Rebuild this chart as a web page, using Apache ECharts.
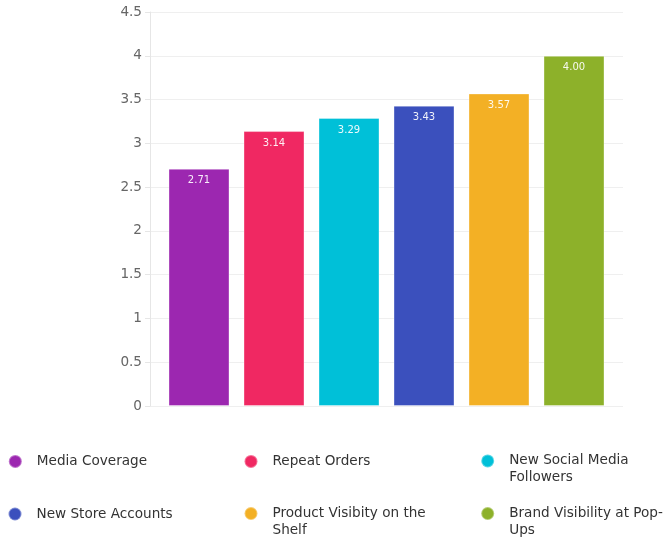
<!DOCTYPE html>
<html>
<head>
<meta charset="utf-8">
<script src="https://cdn.jsdelivr.net/npm/echarts@6/dist/echarts.min.js"></script>
<style>html,body{margin:0;padding:0;background:#fff;}#c{width:664px;height:539px;}</style>
</head>
<body>
<div id="c"></div>
<script>
var categories = ['Media Coverage', 'Repeat Orders', 'New Social Media Followers', 'New Store Accounts', 'Product Visibity on the Shelf', 'Brand Visibility at Pop-Ups'];
var legendLabels = ['Media Coverage', 'Repeat Orders', 'New Social Media\nFollowers', 'New Store Accounts', 'Product Visibity on the\nShelf', 'Brand Visibility at Pop-\nUps'];
var values = [2.71, 3.14, 3.29, 3.43, 3.57, 4.00];
var colors = ['#9c27b0', '#f02862', '#00c0d8', '#3b50bd', '#f3b025', '#8db12a'];
var yTicks = { min: 0, max: 4.5, interval: 0.5 };

var FONT = 'DejaVu Sans';
var series = categories.map(function (name, i) {
  return {
    name: name,
    type: 'bar',
    stack: 'all',
    xAxisIndex: 1,
    yAxisIndex: 1,
    barWidth: 61,
    itemStyle: { color: colors[i], borderColor: 'rgba(255,255,255,0.35)', borderWidth: 1 },
    label: {
      show: true,
      position: 'insideTop',
      distance: 7,
      color: 'rgba(255,255,255,0.92)',
      fontFamily: FONT,
      fontSize: 10,
      formatter: function (p) { return Number(p.value).toFixed(2); }
    },
    data: values.map(function (v, j) { return j === i ? v : '-'; })
  };
});

// icon centres (x, y) of each legend entry
var legendCentres = [
  [14.3, 460.7], [250.0, 460.7], [486.7, 460.7],
  [14.0, 513.3], [250.0, 513.3], [486.7, 513.3]
];
var legends = categories.map(function (name, i) {
  var multi = legendLabels[i].indexOf('\n') >= 0;
  var c = legendCentres[i];
  return {
    left: c[0] - 6.5,
    top: multi ? c[1] - 25.3 : c[1] - 7.8,
    padding: 0,
    icon: 'circle',
    itemWidth: 13,
    itemHeight: 13,
    selectedMode: false,
    data: [name],
    formatter: function () { return multi ? '\u00a0\n' + legendLabels[i] : legendLabels[i]; },
    textStyle: {
      fontFamily: FONT,
      fontSize: 13.6,
      color: '#333',
      lineHeight: 17,
      padding: [0, 0, 0, 10]
    }
  };
});

var chart = echarts.init(document.getElementById('c'), null, { renderer: 'canvas' });
chart.setOption({
  animation: false,
  backgroundColor: '#fff',
  legend: legends,
  grid: [
    { left: 150, right: 41, top: 12, bottom: 133 },
    { left: 161.5, right: 52.5, top: 12, bottom: 133 }
  ],
  xAxis: [
    { type: 'category', gridIndex: 0, data: categories, show: false },
    { type: 'category', gridIndex: 1, data: categories, show: false }
  ],
  yAxis: [
    {
      type: 'value', gridIndex: 0, min: yTicks.min, max: yTicks.max, interval: yTicks.interval,
      axisLine: { show: true, lineStyle: { color: '#e6e6e6', width: 1 } },
      axisTick: { show: true, length: 5, lineStyle: { color: '#e6e6e6' } },
      splitLine: { show: true, lineStyle: { color: '#efefef', width: 1 } },
      axisLabel: { color: '#666', fontFamily: FONT, fontSize: 13.6, margin: 8 }
    },
    {
      type: 'value', gridIndex: 1, min: yTicks.min, max: yTicks.max, interval: yTicks.interval, show: false,
      splitLine: { show: false }
    }
  ],
  series: series
});
</script>
</body>
</html>
